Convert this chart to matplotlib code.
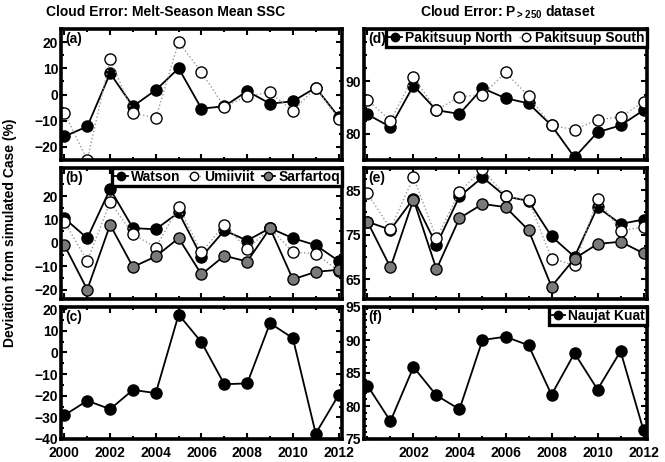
import numpy as np
import matplotlib
matplotlib.use("Agg")
import matplotlib.pyplot as plt
from matplotlib.ticker import MultipleLocator, FixedLocator

plt.rcParams['font.family'] = ['Liberation Sans', 'DejaVu Sans']
plt.rcParams['font.weight'] = 'bold'
plt.rcParams['mathtext.default'] = 'regular'

years = np.arange(2000, 2013)

# (a) melt-season mean SSC
watson_a = [-16, -12.2, 8.1, -4.5, 1.7, 10, -5.4, -4.5, 1.3, -3.5, -2.6, 2.6, -8.5]
umiiviit_a = [-7, -25, 13.5, -7, -9, 20, 8.5, -4.7, -0.6, 0.8, -6.3, 2.6, -9.2]

# (b) melt-season mean SSC, three sites
watson_b = [10.5, 2, 23, 6.3, 5.8, 13, -6, 5.3, 1, 6.3, 2, -1, -7.7]
umiiviit_b = [9, -7.7, 17.3, 3.8, -2, 15.5, -4, 7.7, -2.7, 6.3, -4, -4.6, -12]
sarfartoq_b = [-1, -20, 7.7, -10.3, -5.8, 2, -13.5, -5.5, -8, 6.3, -15.6, -12.4, -11.5]

# (c) Naujat Kuat, mean SSC
naujat_c = [-29, -22.3, -26.2, -17.3, -18.8, 17.5, 4.7, -14.7, -14.3, 13.5, 6.6, -37.5, -19.7]

# (d) P>250 dataset, Pakitsuup
pak_north_d = [83.7, 81.3, 89.2, 84.5, 83.8, 88.7, 86.8, 85.8, 81.6, 75.5, 80.3, 81.6, 84.5]
pak_south_d = [86.5, 82.5, 90.9, 84.5, 87.1, 87.4, 91.7, 87.2, 81.6, 80.8, 82.7, 83.2, 86.1]

# (e) P>250 dataset, three sites
watson_e = [77.9, 76.1, 83.1, 72.7, 83.6, 87.9, 83.6, 82.6, 74.6, 70, 81.2, 77.4, 78.4]
umiiviit_e = [84.3, 76.3, 87.9, 74.2, 84.6, 89.8, 83.6, 82.8, 69.6, 68.1, 83, 75.9, 76.7]
sarfartoq_e = [77.9, 67.6, 82.9, 67.2, 78.7, 81.9, 81.2, 76, 63.3, 69.6, 72.9, 73.4, 70.8]

# (f) P>250 dataset, Naujat Kuat
naujat_f = [83.1, 77.7, 85.9, 81.6, 79.5, 90, 90.5, 89.2, 81.7, 88, 82.5, 88.3, 76.3]

W, H = 665, 462
fig = plt.figure(figsize=(W / 100, H / 100), dpi=100)


def make_ax(x0, x1, top, bottom):
    return fig.add_axes([x0 / W, (H - bottom) / H, (x1 - x0) / W, (bottom - top) / H])


rows = [(29, 160), (168, 299), (307, 439)]
left = [make_ax(61, 342, t, b) for t, b in rows]
right = [make_ax(364, 647, t, b) for t, b in rows]

ms = 8
solid = dict(color='k', lw=1.3, marker='o', ms=ms, mfc='k', mec='k', mew=1)
dotted = dict(color='#9a9a9a', lw=1.0, ls=':', marker='o', ms=ms, mfc='white', mec='k', mew=1)
grey = dict(color='k', lw=1.3, marker='o', ms=ms, mfc='#7a7a7a', mec='k', mew=1)


def style(ax, ylim, yticks, yminor, labels_x):
    ax.set_xlim(1999.85, 2012.15)
    ax.set_ylim(*ylim)
    ax.yaxis.set_major_locator(FixedLocator(yticks))
    ax.yaxis.set_minor_locator(MultipleLocator(yminor))
    ax.xaxis.set_major_locator(FixedLocator(labels_x))
    ax.xaxis.set_minor_locator(MultipleLocator(1))
    ax.tick_params(which='both', direction='in', top=True, right=True, width=1.5,
                   labelsize=10)
    ax.tick_params(axis='y', pad=2)
    ax.tick_params(axis='x', pad=5)
    ax.tick_params(which='major', length=4)
    ax.tick_params(which='minor', length=2.5)
    for s in ax.spines.values():
        s.set_linewidth(2.6)
    for lab in ax.get_xticklabels() + ax.get_yticklabels():
        lab.set_fontweight('bold')


def panel_label(ax, txt):
    ax.text(0.015, 0.975, txt, transform=ax.transAxes, ha='left', va='top',
            fontsize=10, fontweight='bold')


def legend(ax, ncol):
    lg = ax.legend(loc='upper right', ncol=ncol, borderaxespad=0, frameon=True,
                   fancybox=False, edgecolor='k', borderpad=0.15,
                   handlelength=1.0, handletextpad=0.2, columnspacing=0.5,
                   markerscale=0.75, prop=dict(size=10, weight='bold'))
    lg.get_frame().set_linewidth(2.4)
    lg.get_frame().set_alpha(1)


# left column
ax = left[0]
ax.plot(years, watson_a, **solid)
ax.plot(years, umiiviit_a, **dotted)
style(ax, (-25, 25), [-20, -10, 0, 10, 20], 5, range(2000, 2013, 2))
ax.set_xticklabels([])
panel_label(ax, '(a)')

ax = left[1]
ax.plot(years, watson_b, **solid, label='Watson')
ax.plot(years, umiiviit_b, **dotted, label='Umiiviit')
ax.plot(years, sarfartoq_b, **grey, label='Sarfartoq')
style(ax, (-24, 32), [-20, -10, 0, 10, 20], 5, range(2000, 2013, 2))
ax.set_xticklabels([])
panel_label(ax, '(b)')
legend(ax, 3)

ax = left[2]
ax.plot(years, naujat_c, **solid)
style(ax, (-40, 21), [-40, -30, -20, -10, 0, 10, 20], 5, range(2000, 2013, 2))
panel_label(ax, '(c)')

# right column
ax = right[0]
ax.plot(years, pak_north_d, **solid, label='Pakitsuup North')
ax.plot(years, pak_south_d, **dotted, label='Pakitsuup South')
style(ax, (75, 100), [80, 90], 2.5, range(2000, 2013, 2))
ax.set_xticklabels([])
panel_label(ax, '(d)')
legend(ax, 2)

ax = right[1]
ax.plot(years, watson_e, **solid)
ax.plot(years, umiiviit_e, **dotted)
ax.plot(years, sarfartoq_e, **grey)
style(ax, (60.5, 90), [65, 75, 85], 2.5, range(2000, 2013, 2))
ax.set_xticklabels([])
panel_label(ax, '(e)')

ax = right[2]
ax.plot(years, naujat_f, **solid, label='Naujat Kuat')
style(ax, (75, 95), [75, 80, 85, 90, 95], 1, range(2002, 2013, 2))
panel_label(ax, '(f)')
legend(ax, 1)

fig.text(166 / W, 1 - 12 / H, 'Cloud Error: Melt-Season Mean SSC', ha='center', va='center',
         fontsize=10, fontweight='bold')
fig.text(508 / W, 1 - 12 / H, 'Cloud Error: P$_{>250}$ dataset', ha='center', va='center',
         fontsize=10, fontweight='bold')
fig.text(10 / W, 1 - 233 / H, 'Deviation from simulated Case (%)', rotation=90,
         ha='center', va='center', fontsize=10, fontweight='bold')

fig.savefig('out.png', dpi=100)
